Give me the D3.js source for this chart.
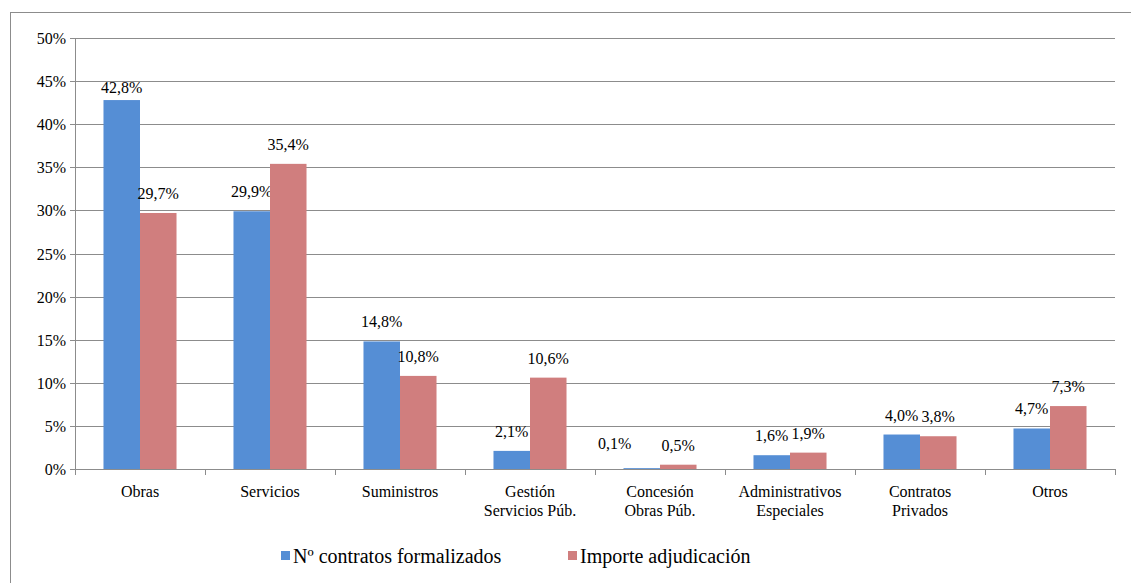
<!DOCTYPE html>
<html>
<head>
<meta charset="utf-8">
<script src="https://cdn.jsdelivr.net/npm/d3@7"></script>
</head>
<body style="margin:0">
<svg id="chart" width="1131" height="583"></svg>
<script>
const categories = [
  ['Obras'], ['Servicios'], ['Suministros'], ['Gestión', 'Servicios Púb.'],
  ['Concesión', 'Obras Púb.'], ['Administrativos', 'Especiales'], ['Contratos', 'Privados'], ['Otros']
];
const contratos = [42.8, 29.9, 14.8, 2.1, 0.1, 1.6, 4.0, 4.7];
const importe = [29.7, 35.4, 10.8, 10.6, 0.5, 1.9, 3.8, 7.3];
const seriesNames = ['Nº contratos formalizados', 'Importe adjudicación'];
const yTicks = [0, 5, 10, 15, 20, 25, 30, 35, 40, 45, 50];

const colors = ['#558ed5', '#d07e7e'];
const serif = '"Times New Roman"';
// label nudges where the original pushed labels apart
const labelNudge = { '0-0': [0, 7], '0-4': [-27, -5] };

const svg = d3.select('#chart');
const margin = { left: 75, right: 1115, top: 38, bottom: 469 };

// outer frame
svg.append('rect')
  .attr('x', 10.5).attr('y', 12.5)
  .attr('width', 1130).attr('height', 580)
  .attr('fill', 'none').attr('stroke', '#8c8c8c').attr('stroke-width', 1);

const x = d3.scaleBand()
  .domain(d3.range(categories.length))
  .range([margin.left, margin.right])
  .paddingInner(0).paddingOuter(0);

const y = d3.scaleLinear().domain([0, 50]).range([margin.bottom, margin.top]);

const inner = d3.scaleBand().domain([0, 1])
  .range([0, x.bandwidth()]).paddingInner(0).paddingOuter(0.78);

// gridlines
svg.append('g').selectAll('line')
  .data(yTicks.filter(d => d > 0))
  .enter().append('line')
  .attr('x1', margin.left).attr('x2', margin.right)
  .attr('y1', d => Math.round(y(d)) + 0.5).attr('y2', d => Math.round(y(d)) + 0.5)
  .attr('stroke', '#8c8c8c');

// y axis
const yAxis = svg.append('g');
yAxis.append('line')
  .attr('x1', margin.left + 0.5).attr('x2', margin.left + 0.5)
  .attr('y1', margin.top).attr('y2', margin.bottom + 6)
  .attr('stroke', '#8c8c8c');
const yTick = yAxis.selectAll('g')
  .data(yTicks)
  .enter().append('g')
  .attr('transform', d => `translate(0,${Math.round(y(d)) + 0.5})`);
yTick.append('line')
  .attr('x1', margin.left - 5).attr('x2', margin.left)
  .attr('stroke', '#8c8c8c');
yTick.append('text')
  .attr('x', margin.left - 9)
  .attr('dy', '0.32em')
  .attr('text-anchor', 'end')
  .attr('font-family', serif)
  .attr('font-size', 16)
  .text(d => d + '%');

// bars
const series = [contratos, importe];
series.forEach((vals, s) => {
  svg.append('g').selectAll('rect')
    .data(vals)
    .enter().append('rect')
    .attr('x', (d, i) => x(i) + inner(s))
    .attr('width', inner.bandwidth())
    .attr('y', d => y(d))
    .attr('height', d => y(0) - y(d))
    .attr('fill', colors[s]);

  svg.append('g').selectAll('text')
    .data(vals)
    .enter().append('text')
    .attr('x', (d, i) => x(i) + inner(s) + inner.bandwidth() / 2 + ((labelNudge[s + '-' + i] || [0, 0])[0]))
    .attr('y', (d, i) => y(d) - 14 + ((labelNudge[s + '-' + i] || [0, 0])[1]))
    .attr('text-anchor', 'middle')
    .attr('font-family', serif)
    .attr('font-size', 16)
    .text(d => d.toFixed(1).replace('.', ',') + '%');
});

// x axis
const xAxis = svg.append('g');
xAxis.append('line')
  .attr('x1', margin.left).attr('x2', margin.right)
  .attr('y1', margin.bottom + 0.5).attr('y2', margin.bottom + 0.5)
  .attr('stroke', '#8c8c8c');
xAxis.selectAll('line.tick')
  .data(d3.range(categories.length + 1))
  .enter().append('line')
  .attr('class', 'tick')
  .attr('x1', d => Math.round(margin.left + d * x.step()) + 0.5)
  .attr('x2', d => Math.round(margin.left + d * x.step()) + 0.5)
  .attr('y1', margin.bottom).attr('y2', margin.bottom + 6)
  .attr('stroke', '#8c8c8c');

const labels = xAxis.selectAll('text')
  .data(categories)
  .enter().append('text')
  .attr('text-anchor', 'middle')
  .attr('x', (d, i) => x(i) + x.bandwidth() / 2)
  .attr('y', 497)
  .attr('font-family', serif)
  .attr('font-size', 16);
labels.selectAll('tspan')
  .data(d => d)
  .enter().append('tspan')
  .attr('x', function() { return d3.select(this.parentNode).attr('x'); })
  .attr('dy', (d, i) => i === 0 ? 0 : 19)
  .text(d => d);

// legend
const legendX = [281, 568];
const legend = svg.append('g');
seriesNames.forEach((name, s) => {
  legend.append('rect')
    .attr('x', legendX[s]).attr('y', 551)
    .attr('width', 9).attr('height', 9)
    .attr('fill', colors[s]);
  legend.append('text')
    .attr('x', legendX[s] + 12).attr('y', 563)
    .attr('font-family', serif)
    .attr('font-size', 20)
    .text(name);
});
</script>
</body>
</html>
